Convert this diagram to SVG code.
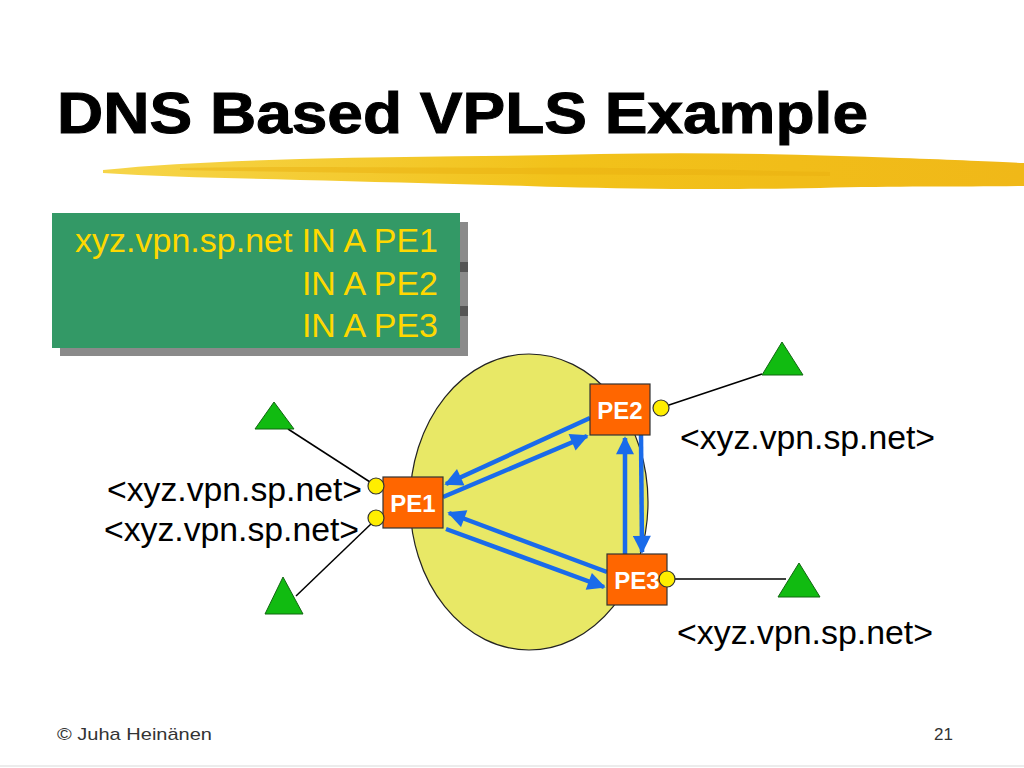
<svg xmlns="http://www.w3.org/2000/svg" width="1024" height="768" viewBox="0 0 1024 768">
<defs>
<style>
.lbl{font-family:"Liberation Sans",Arial,sans-serif;font-size:34px;fill:#000}
.box{font-family:"Liberation Sans",Arial,sans-serif;font-size:34px;fill:#FFD800}
.pe{fill:#FF6600;stroke:#333;stroke-width:1.2}
.pet{font-family:"Liberation Sans",Arial,sans-serif;font-size:24px;font-weight:bold;fill:#fff;text-anchor:middle}
.port{fill:#FFEE00;stroke:#333;stroke-width:1.2}
.tri{fill:#11BB11;stroke:#116611;stroke-width:1}
.link{stroke:#000;stroke-width:1.5;fill:none}
.arr{stroke:#1A6BEA;stroke-width:4.5;fill:none;marker-end:url(#ah)}
</style>
<marker id="ah" viewBox="0 0 10 10" refX="9" refY="5" markerWidth="4.4" markerHeight="4" orient="auto" markerUnits="strokeWidth">
<path d="M0,0 L10,5 L0,10 z" fill="#1A6BEA"/>
</marker>
<linearGradient id="brush" x1="0" y1="0" x2="1" y2="0">
<stop offset="0" stop-color="#F6D54A"/>
<stop offset="0.5" stop-color="#F2C21A"/>
<stop offset="1" stop-color="#F0B818"/>
</linearGradient>
</defs>
<rect width="1024" height="768" fill="#fff"/>
<text x="57" y="133" font-family="'Liberation Sans',Arial,sans-serif" font-weight="bold" font-size="58" stroke="#000" stroke-width="1" textLength="811" lengthAdjust="spacingAndGlyphs">DNS Based VPLS Example</text>
<g id="brush-stroke">
<path d="M103,170 C160,164 230,161 300,159 C400,156 500,157 600,154 C700,152 800,154 900,158 C960,160 1000,162 1024,163 L1024,186 C960,187 900,186 820,188 C720,190 640,189 560,187 C460,184 380,182 300,180 C230,178 160,177 103,173 z" fill="url(#brush)"/>
<path d="M180,168 C300,166 420,168 520,168 C620,167 720,170 830,172 L830,176 C720,175 620,175 520,174 C420,174 300,172 180,170 z" fill="#E9B010" opacity="0.5"/>
</g>
<g id="dns-box">
<rect x="60" y="222" width="408" height="134" fill="#8A8A8A"/>
<rect x="52" y="213" width="408" height="135" fill="#339966"/>
<rect x="460" y="262" width="8" height="10" fill="#555"/>
<rect x="460" y="306" width="8" height="10" fill="#555"/>
<text class="box" x="438" y="252" text-anchor="end" textLength="363" lengthAdjust="spacingAndGlyphs">xyz.vpn.sp.net IN A PE1</text>
<text class="box" x="438" y="295" text-anchor="end">IN A PE2</text>
<text class="box" x="438" y="337" text-anchor="end">IN A PE3</text>
</g>
<g id="cloud">
<ellipse cx="529" cy="502" rx="119" ry="148" fill="#E8E866" stroke="#222" stroke-width="1.2"/>
</g>
<g id="connectors">
<line class="link" x1="288" y1="429" x2="370" y2="482"/>
<line class="link" x1="296" y1="596" x2="372" y2="523"/>
<line class="link" x1="762" y1="374" x2="666" y2="406"/>
<line class="link" x1="672" y1="579" x2="786" y2="579"/>
<line class="arr" x1="590" y1="418" x2="446" y2="484"/>
<line class="arr" x1="443" y1="497" x2="587" y2="436"/>
<line class="arr" x1="607" y1="572" x2="449" y2="513"/>
<line class="arr" x1="446" y1="529" x2="604" y2="587"/>
<line class="arr" x1="625" y1="554" x2="625" y2="438"/>
<line class="arr" x1="641" y1="435" x2="642" y2="552"/>
</g>
<g id="PE1">
<rect class="pe" x="383" y="477" width="60" height="51"/>
<text class="pet" x="413" y="512">PE1</text>
</g>
<g id="PE2">
<rect class="pe" x="590" y="384" width="60" height="51"/>
<text class="pet" x="620" y="419">PE2</text>
</g>
<g id="PE3">
<rect class="pe" x="607" y="554" width="60" height="51"/>
<text class="pet" x="637" y="589">PE3</text>
</g>
<g id="ports">
<circle class="port" cx="376" cy="486" r="8"/>
<circle class="port" cx="376" cy="518" r="8"/>
<circle class="port" cx="661" cy="408" r="8"/>
<circle class="port" cx="667" cy="579" r="8"/>
</g>
<g id="ce-tl"><polygon class="tri" points="274,402 294,429 255,429"/></g>
<g id="ce-bl"><polygon class="tri" points="283,577 303,614 265,614"/></g>
<g id="ce-tr"><polygon class="tri" points="782,342 803,375 762,375"/></g>
<g id="ce-br"><polygon class="tri" points="799,563 820,597 778,597"/></g>
<g id="labels">
<text class="lbl" x="107" y="501" textLength="255" lengthAdjust="spacingAndGlyphs">&lt;xyz.vpn.sp.net&gt;</text>
<text class="lbl" x="104" y="541" textLength="255" lengthAdjust="spacingAndGlyphs">&lt;xyz.vpn.sp.net&gt;</text>
<text class="lbl" x="680" y="449" textLength="255" lengthAdjust="spacingAndGlyphs">&lt;xyz.vpn.sp.net&gt;</text>
<text class="lbl" x="677" y="644" textLength="256" lengthAdjust="spacingAndGlyphs">&lt;xyz.vpn.sp.net&gt;</text>
</g>
<g id="footer">
<text x="57" y="740" font-family="'Liberation Sans',Arial,sans-serif" font-size="17" fill="#333" textLength="155" lengthAdjust="spacingAndGlyphs">© Juha Heinänen</text>
<text x="953" y="740" font-family="'Liberation Sans',Arial,sans-serif" font-size="17" fill="#333" text-anchor="end">21</text>
<line x1="0" y1="766" x2="1024" y2="766" stroke="#E6E6E6" stroke-width="1.5"/>
</g>
</svg>
